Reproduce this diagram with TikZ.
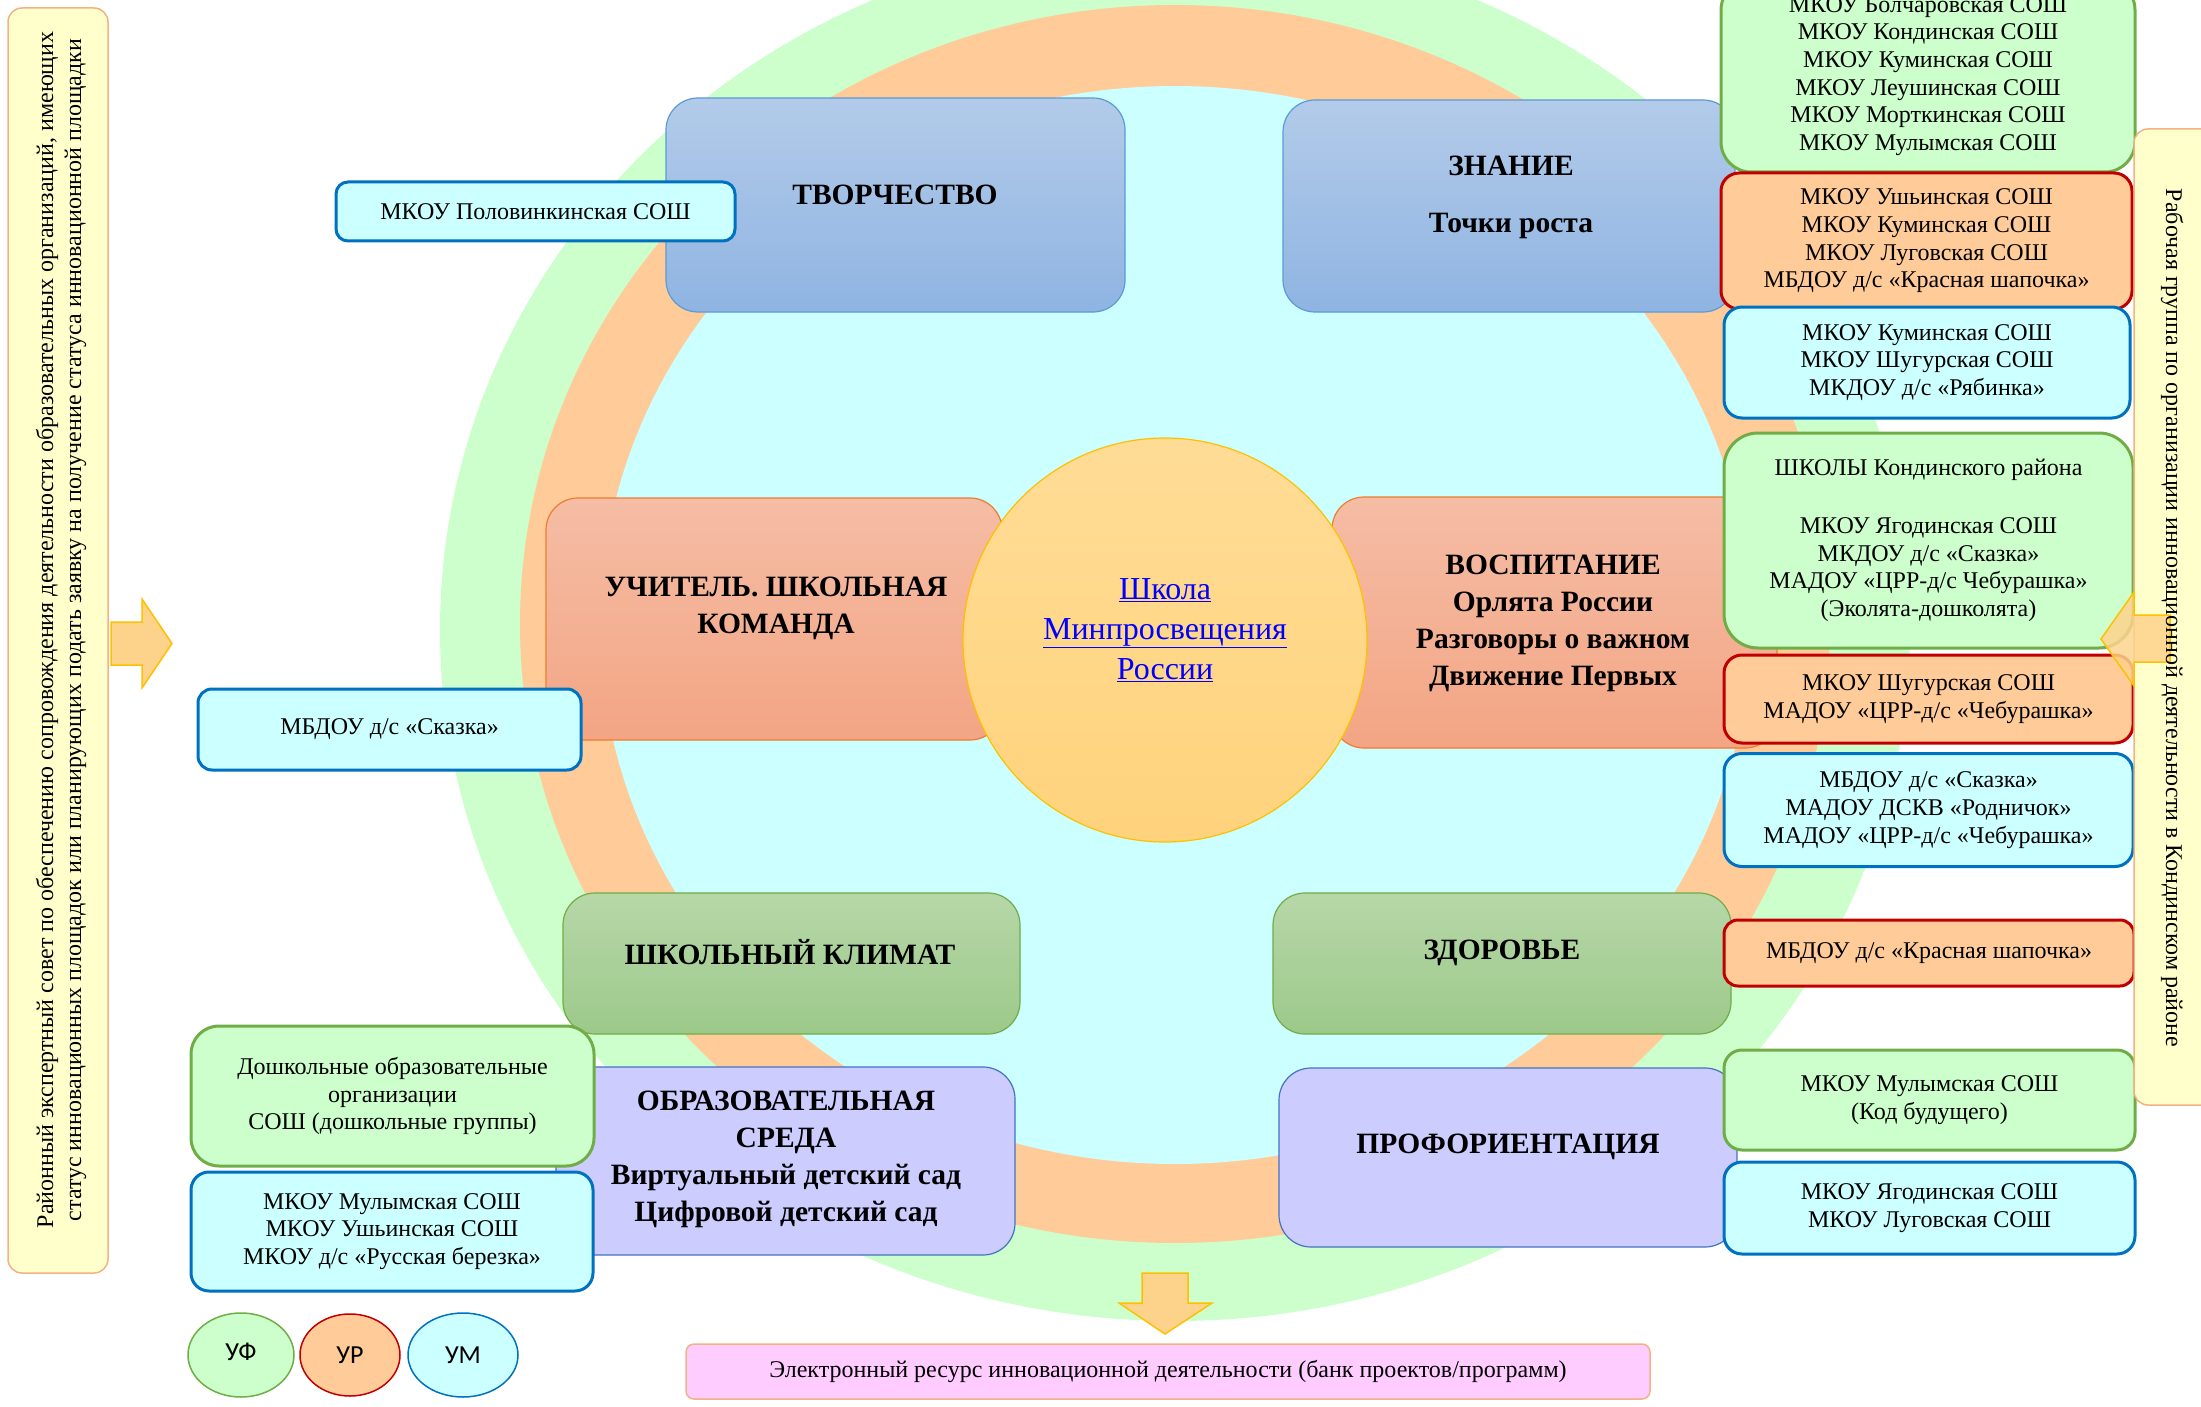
\documentclass[tikz,border=0pt]{standalone}
\usepackage{fontspec}
\setmainfont{Liberation Serif}
\newfontfamily\legendfont{Carlito}
\usetikzlibrary{shapes.geometric}
\definecolor{gbg}{HTML}{CCFFCC}
\definecolor{obg}{HTML}{FFCC99}
\definecolor{cbg}{HTML}{CCFFFF}
\definecolor{ybg}{HTML}{FFFFCC}
\definecolor{pbg}{HTML}{FFCCFF}
\definecolor{lav}{HTML}{CCCCFF}
\definecolor{lavbd}{HTML}{4472C4}
\definecolor{bluetop}{HTML}{B3CBE9}
\definecolor{bluebot}{HTML}{8FB4E2}
\definecolor{bluebd}{HTML}{5B9BD5}
\definecolor{saltop}{HTML}{F5BDA5}
\definecolor{salbot}{HTML}{F3A584}
\definecolor{salbd}{HTML}{ED7D31}
\definecolor{grntop}{HTML}{B7D7A8}
\definecolor{grnbot}{HTML}{9CC98A}
\definecolor{grnbd}{HTML}{70AD47}
\definecolor{redbd}{HTML}{C00000}
\definecolor{cyanbd}{HTML}{0070C0}
\definecolor{orbd}{HTML}{F4B183}
\definecolor{ctop}{HTML}{FFDC96}
\definecolor{cbot}{HTML}{FFD37C}
\definecolor{goldbd}{HTML}{FFC000}
\definecolor{arrfill}{HTML}{FDD38C}
\definecolor{linkblue}{HTML}{0000FF}
\tikzset{
  bigbox/.style={rounded corners=32pt, draw, line width=1.2pt, inner sep=0pt},
  blueb/.style={bigbox, draw=bluebd, top color=bluetop, bottom color=bluebot},
  salb/.style={bigbox, draw=salbd, top color=saltop, bottom color=salbot},
  greenb/.style={bigbox, draw=grnbd, top color=grntop, bottom color=grnbot},
  lavb/.style={bigbox, draw=lavbd, fill=lav},
  maintext/.style={align=center, inner sep=0pt, font=\bfseries\fontsize{29.5}{37}\selectfont},
  listbox/.style={rounded corners=18pt, line width=3pt, inner sep=0pt, align=center,
    font=\fontsize{24}{27.7}\selectfont},
  lgreen/.style={listbox, draw=grnbd, fill=gbg},
  lpeach/.style={listbox, draw=redbd, fill=obg},
  lcyan/.style={listbox, draw=cyanbd, fill=cbg},
  sidebox/.style={rounded corners=14pt, draw=orbd, line width=1.5pt, fill=ybg, inner sep=0pt},
  sidetext/.style={align=center, inner sep=0pt, font=\fontsize{24}{28}\selectfont},
  legend/.style={ellipse, line width=1.5pt, inner sep=0pt, minimum width=106pt, minimum height=84pt,
    font=\legendfont\fontsize{26}{28}\selectfont},
  blockarrow/.style={fill=arrfill, draw=goldbd, line width=1.5pt, line join=miter},
}
\begin{document}
\begin{tikzpicture}[x=1pt,y=-1pt]
\useasboundingbox (0,0) rectangle (2201,1407);
% rings
\fill[gbg] (1175,630) ellipse [x radius=735, y radius=691];
\fill[obg] (1175,624) ellipse [x radius=655, y radius=619];
\fill[cbg] (1175,625) ellipse [x radius=575, y radius=539];

% main boxes
\node[blueb, minimum width=459pt, minimum height=214pt] (tvor) at (895.5,205) {};
\node[maintext] (tvortx) at (895,195) {ТВОРЧЕСТВО};
\node[blueb, minimum width=452pt, minimum height=212pt] (znan) at (1509,206) {};
\node[maintext] (znantx1) at (1511,166) {ЗНАНИЕ};
\node[maintext] (znantx2) at (1511,226) {Точки роста};

\node[salb, minimum width=456pt, minimum height=242pt] (uchit) at (774,619) {};
\node[maintext] (uchittx) at (776,608) {УЧИТЕЛЬ. ШКОЛЬНАЯ\\КОМАНДА};
\node[salb, minimum width=445pt, minimum height=251pt] (vosp) at (1554.5,622.5) {};
\node[maintext] (vosptx) at (1553,623) {ВОСПИТАНИЕ\\Орлята России\\Разговоры о важном\\Движение Первых};

\node[greenb, minimum width=457pt, minimum height=141pt] (klim) at (791.5,963.5) {};
\node[maintext] (klimtx) at (790,952) {ШКОЛЬНЫЙ КЛИМАТ};
\node[greenb, minimum width=458pt, minimum height=141pt] (zdor) at (1502,963.5) {};
\node[maintext] (zdortx) at (1502,953) {ЗДОРОВЬЕ};

\node[lavb, minimum width=459pt, minimum height=188pt] (obraz) at (785.5,1161) {};
\node[maintext] (obraztx) at (786,1159) {ОБРАЗОВАТЕЛЬНАЯ\\СРЕДА\\Виртуальный детский сад\\Цифровой детский сад};
\node[lavb, minimum width=458pt, minimum height=179pt] (prof) at (1508,1157.5) {};
\node[maintext] (proftx) at (1508,1147) {ПРОФОРИЕНТАЦИЯ};

% centre circle
\node[circle, draw=goldbd, line width=1.2pt, top color=ctop, bottom color=cbot,
      minimum size=404pt, inner sep=0pt] (centre) at (1165,640) {};
\node[align=center, inner sep=0pt, text=linkblue, font=\fontsize{32}{40}\selectfont] (centretx) at (1165,630)
  {\underline{Школа}\\\underline{Минпросвещения}\\\underline{России}};

% left small boxes
\node[lcyan, minimum width=399pt, minimum height=59pt, rounded corners=12pt] (polov) at (535.5,211.5) {МКОУ Половинкинская СОШ};
\node[lcyan, minimum width=383pt, minimum height=81pt, rounded corners=14pt] (skaz) at (389.5,729.5) {МБДОУ д/с «Сказка»};
\node[lgreen, minimum width=403pt, minimum height=140pt, rounded corners=28pt] (doshk) at (392.5,1096)
  {Дошкольные образовательные\\организации\\СОШ (дошкольные группы)};
\node[lcyan, minimum width=402pt, minimum height=119pt] (mul1) at (392,1231.5)
  {МКОУ Мулымская СОШ\\МКОУ Ушьинская СОШ\\МКОУ д/с «Русская березка»};

% right list boxes
\node[lgreen, minimum width=414pt, minimum height=192pt, rounded corners=30pt] (r1) at (1928,76)
  {МКОУ Болчаровская СОШ\\МКОУ Кондинская СОШ\\МКОУ Куминская СОШ\\МКОУ Леушинская СОШ\\МКОУ Морткинская СОШ\\МКОУ Мулымская СОШ};
\node[lpeach, minimum width=411pt, minimum height=136pt] (r2) at (1926.5,241)
  {МКОУ Ушьинская СОШ\\МКОУ Куминская СОШ\\МКОУ Луговская СОШ\\МБДОУ д/с «Красная шапочка»};
\node[lcyan, minimum width=406pt, minimum height=111pt] (r3) at (1927,362.5)
  {МКОУ Куминская СОШ\\МКОУ Шугурская СОШ\\МКДОУ д/с «Рябинка»};
\node[lgreen, minimum width=409pt, minimum height=215pt, rounded corners=34pt] (r4) at (1928.5,540.5)
  {ШКОЛЫ Кондинского района\\[30pt]МКОУ Ягодинская СОШ\\МКДОУ д/с «Сказка»\\МАДОУ «ЦРР-д/с Чебурашка»\\(Эколята-дошколята)};
\node[lpeach, minimum width=409pt, minimum height=88pt] (r5) at (1928.5,699)
  {МКОУ Шугурская СОШ\\МАДОУ «ЦРР-д/с «Чебурашка»};
\node[lcyan, minimum width=409pt, minimum height=113pt] (r6) at (1928.5,810)
  {МБДОУ д/с «Сказка»\\МАДОУ ДСКВ «Родничок»\\МАДОУ «ЦРР-д/с «Чебурашка»};
\node[lpeach, minimum width=410pt, minimum height=66pt, rounded corners=14pt] (r7) at (1929,953)
  {МБДОУ д/с «Красная шапочка»};
\node[lgreen, minimum width=411pt, minimum height=100pt] (r8) at (1929.5,1100)
  {МКОУ Мулымская СОШ\\(Код будущего)};
\node[lcyan, minimum width=411pt, minimum height=92pt] (r9) at (1929.5,1208)
  {МКОУ Ягодинская СОШ\\МКОУ Луговская СОШ};

% side boxes
\node[sidebox, minimum width=100pt, minimum height=1265pt] (leftbox) at (58,640.5) {};
\node[sidetext, rotate=90] (lefttx) at (61,630)
  {Районный экспертный совет по обеспечению сопровождения деятельности образовательных организаций, имеющих\\
   статус инновационных площадок или планирующих подать заявку на получение статуса инновационной площадки};
\node[sidebox, minimum width=82pt, minimum height=976pt] (rightbox) at (2175,617) {};
\draw[blockarrow, fill opacity=0.85] (2101,639) -- (2134,592) -- (2134,615) -- (2170,615) -- (2170,662)
  -- (2134,662) -- (2134,686) -- cycle;
\node[sidetext, rotate=-90] (righttx) at (2172,618)
  {Рабочая группа по организации инновационной деятельности в Кондинском районе};

% arrows
\draw[blockarrow] (111,622) -- (142,622) -- (142,599) -- (172,643.5) -- (142,688) -- (142,665) -- (111,665) -- cycle;
\draw[blockarrow] (1142,1273) -- (1188,1273) -- (1188,1303) -- (1212,1303) -- (1165,1334) -- (1119,1303)
  -- (1142,1303) -- cycle;

% bottom resource box
\node[rounded corners=8pt, draw=orbd, line width=1.5pt, fill=pbg, minimum width=964pt, minimum height=55pt,
      inner sep=0pt, font=\fontsize{24}{28}\selectfont] (res) at (1168,1371.5)
  {Электронный ресурс инновационной деятельности (банк проектов/программ)};

% legend
\node[legend, draw=grnbd, fill=gbg] (uf) at (241,1355) {\raisebox{6pt}{УФ}};
\node[legend, draw=redbd, fill=obg, minimum width=100pt, minimum height=82pt] (ur) at (350,1355) {УР};
\node[legend, draw=cyanbd, fill=cbg, minimum width=110pt] (um) at (463,1355) {УМ};
\end{tikzpicture}
\end{document}
